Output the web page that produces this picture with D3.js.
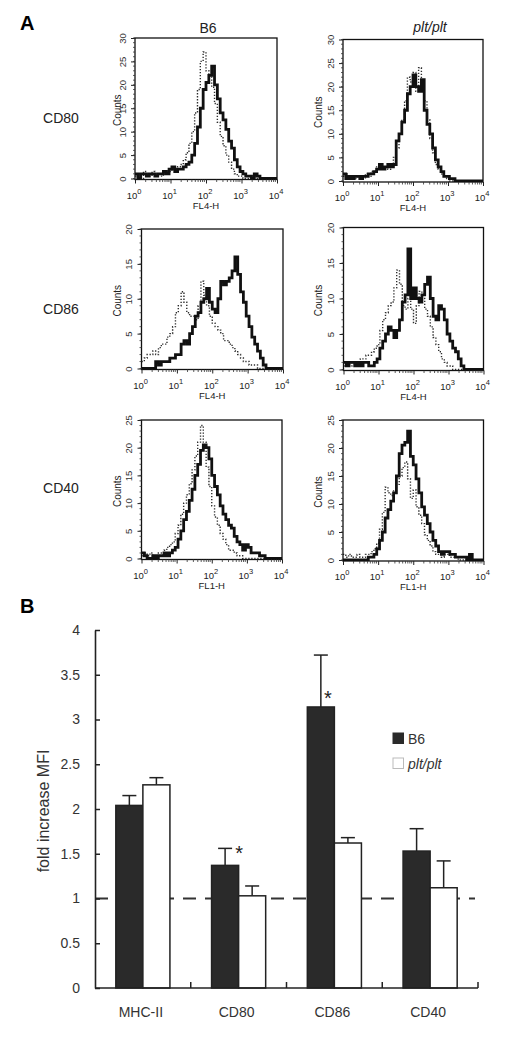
<!DOCTYPE html>
<html>
<head>
<meta charset="utf-8">
<script src="https://cdn.jsdelivr.net/npm/d3@7"></script>
<style>
  html, body { margin: 0; padding: 0; background: #ffffff; }
  svg { display: block; font-family: "Liberation Sans", Arial, sans-serif; }
</style>
</head>
<body>
<svg id="chart" width="519" height="1047"></svg>
<script>
// ---------------- DATA ----------------
// Histogram channels: 50 bins of 0.08 log10 units covering 10^0 .. 10^4
const binStepLog = 0.08;

const cd80B6Solid = [1,0,1,1,0.5,1,1,0.5,1,1, 1.5,1,2,2.5,1.5,2,2,2.5,3,3.5, 5,7.5,11,15,19,20.5,22,24,20,17, 14,12.5,10.5,8,6.5,4,2.5,1.5,1,0.5, 0.5,0,1,0.5,0,0,0,0,0,0];
const cd80B6Dot   = [0.5,1,0,1.5,1,0.5,1.5,1,1,0.5, 1.5,1,1.5,2,2,2.5,3,4,5.5,7.5, 10,14,19,25,27,23,22,19.5,16,12, 9,7,5,3.5,2,1,0.5,0.5,0,0, 0,0,0,0,0,0,0,0,0,0];
const cd80PltSolid = [1.5,0.5,1,0.5,1,1,0.5,1,1,1.5, 1.5,2,2.5,3.5,2.5,3,3.5,3,3.5,8.5, 10,12.5,15,18.5,20,22.5,20,19,21.5,15, 12,10,7,4.5,3,2,1,1,0.5,0.5, 0,0,0,0,0,0,0,0,0,0];
const cd80PltDot   = [1,1.5,0.5,1,0.5,1,1,0.5,1.5,1, 2,2,3,2.5,3,3,2.5,3,5,7, 10,13,17,22,21,23,19,24,20,17, 13,9,6,3.5,2.5,1.5,1,0.5,0,0, 0,0,0,0,0,0,0,0,0,0];

const cd86B6Solid = [0,0,0,0,0,1,0.5,1,1,1, 1.5,1.5,2,2,3.5,4,3.5,5,6,7.5, 8,9.5,10,11.5,9.5,8.5,8,10,12.5,12, 12.5,13,14,16,13.5,11,9.5,7.5,6,4.5, 3.5,2.5,1.5,0.5,0,0,0,0,0,0];
const cd86B6Dot   = [1,1.5,2,2,2.5,2,3,3.5,3.5,4.5, 5,6,8,9,11,9.5,8,7.5,7.5,7, 9,12.5,10.5,9,7.5,6.5,6,5.5,5,4, 4,3.5,3,2.5,2,1.5,1,1,0.5,0.5, 0.5,0,0,0,0,0,0,0,0,0];
const cd86PltSolid = [1,0.5,1,1,0.5,1,0.5,1,1,0.5, 0.5,1,1.5,3,4,5,6,5.5,4.5,5.5, 7,9.5,10.5,17,10,11.5,10,9.5,10.5,12, 13,10,7.5,7,9,8.5,7,5,4,3, 2.5,1.5,0.5,0,0,0,0,0,0,0];
const cd86PltDot   = [0.5,1,0.5,1,1,1,1.5,1.5,2,2, 2.5,3,3.5,5.5,7,8,9,9.5,11.5,14, 12,9,8.5,10,8.5,6.5,9,11,10,8.5, 7.5,6,4.5,3.5,2.5,1.5,1,0.5,0.5,0, 0,0,0,0,0,0,0,0,0,0];

const cd40B6Solid = [1,0.5,0,0,0.5,0,0.5,0.5,1,0.5, 1,1.5,2,3.5,5,7,8.5,10.5,12.5,15, 17,19.5,20.5,20,18,15,13,11.5,9.5,8, 7,6,5.5,4,3,2.5,1.5,2.5,2,1, 1,1,0.5,0.5,0,0,0,0,0,0];
const cd40B6Dot   = [0.5,1,0.5,1,0.5,0.5,1,1,1.5,2, 2.5,3,4.5,6,8,10,11.5,13.5,16,18.5, 21,24,21,16.5,13,9.5,7.5,6,4.5,3.5, 2.5,1.5,1.5,1,0.5,0.5,0,0,0,0, 0,0,0,0,0,0,0,0,0,0];
const cd40PltSolid = [0,0,0,0,0,0,0,0,0,0.5, 0.5,1,2,3.5,5,7.5,9,10.5,12,15, 19,20.5,21,23,18.5,17,14.5,12,9.5,8, 6.5,5,3.5,2.5,1.5,1,1.5,1.5,1,1, 0.5,0.5,0.5,0.5,0,1,0,0,0,0];
const cd40PltDot   = [1,0.5,1,0.5,0.5,1,0.5,0.5,1,1, 1.5,2,3,5.5,8.5,13,12,11.5,12.5,13.5, 15,16.5,17.5,14.5,11,12.5,9.5,8,6.5,4.5, 3.5,2.5,1.5,1,1,0.5,1,1,0.5,0.5, 0.5,0,0,0,0,0,0,0,0,0];

const histColumns = ["B6", "plt/plt"];
const histRows = ["CD80", "CD86", "CD40"];
const histYMax = [30, 20, 25];
const histXLabels = ["FL4-H", "FL4-H", "FL1-H"];
const logTickExponents = [0, 1, 2, 3, 4];

// Bar chart (panel B)
const categories = ["MHC-II", "CD80", "CD86", "CD40"];
const seriesNames = ["B6", "plt/plt"];
const b6Mean  = [2.04, 1.37, 3.14, 1.53];
const b6Err   = [0.11, 0.19, 0.58, 0.25];
const pltMean = [2.27, 1.03, 1.62, 1.12];
const pltErr  = [0.08, 0.11, 0.06, 0.30];
const yTicksB = [0, 0.5, 1, 1.5, 2, 2.5, 3, 3.5, 4];
const starCats = ["CD80", "CD86"];
const starValues = [1.55, 3.28];

// ---------------- LAYOUT ----------------
const svg = d3.select("#chart");
svg.append("rect").attr("width", 519).attr("height", 1047).attr("fill", "#ffffff");

const histData = [
  [ {solid: cd80B6Solid, dot: cd80B6Dot}, {solid: cd80PltSolid, dot: cd80PltDot} ],
  [ {solid: cd86B6Solid, dot: cd86B6Dot}, {solid: cd86PltSolid, dot: cd86PltDot} ],
  [ {solid: cd40B6Solid, dot: cd40B6Dot}, {solid: cd40PltSolid, dot: cd40PltDot} ]
];
// frames: [x0, x1, yTop, yZero, countsX]
const frames = [
  [ [135, 277, 38, 178.5, 117], [343, 483, 39.5, 181, 318] ],
  [ [141.5, 283, 229, 368.5, 117], [343.5, 483.5, 227.5, 369.5, 318] ],
  [ [141.5, 282, 420, 558.5, 117], [343, 483.5, 420, 560, 318] ]
];
const rowLabelY = [123, 314, 493];

svg.append("text").attr("x", 20).attr("y", 30).attr("font-size", 20).attr("font-weight", "bold").text("A");
svg.append("text").attr("x", 20).attr("y", 613).attr("font-size", 20).attr("font-weight", "bold").text("B");

svg.append("text").attr("x", 208).attr("y", 33).attr("text-anchor", "middle").attr("font-size", 14).attr("fill", "#222").text(histColumns[0]);
svg.append("text").attr("x", 430).attr("y", 32).attr("text-anchor", "middle").attr("font-size", 14).attr("fill", "#222").attr("font-style", "italic").text(histColumns[1]);

histRows.forEach((r, ri) => {
  svg.append("text").attr("x", 61).attr("y", rowLabelY[ri]).attr("text-anchor", "middle").attr("font-size", 14).attr("fill", "#222").text(r);
});

let clipId = 0;
histRows.forEach((r, ri) => {
  [0, 1].forEach(ci => {
    const [x0, x1, yTop, yZero, countsX] = frames[ri][ci];
    const ymax = histYMax[ri];
    const xs = d3.scaleLog().domain([1, 10000]).range([x0, x1]);
    const ys = d3.scaleLinear().domain([0, ymax]).range([yZero, yTop]);
    const g = svg.append("g");

    const cid = "clip" + (clipId++);
    svg.append("clipPath").attr("id", cid).append("rect")
      .attr("x", x0).attr("y", yTop).attr("width", x1 - x0).attr("height", yZero - yTop + 1);

    const d = histData[ri][ci];
    const toPts = arr => {
      const pts = arr.map((v, i) => [Math.pow(10, i * binStepLog), v]);
      pts.push([10000, arr[arr.length - 1]]);
      return pts;
    };
    const line = d3.line().x(p => xs(p[0])).y(p => ys(p[1])).curve(d3.curveStepAfter);

    g.append("path").attr("d", line(toPts(d.dot))).attr("fill", "none")
      .attr("stroke", "#2e2e2e").attr("stroke-width", 1.4).attr("stroke-dasharray", "1.3,1.7")
      .attr("clip-path", `url(#${cid})`);
    g.append("path").attr("d", line(toPts(d.solid))).attr("fill", "none")
      .attr("stroke", "#111").attr("stroke-width", 2.8).attr("stroke-linejoin", "miter")
      .attr("clip-path", `url(#${cid})`);

    // frame
    g.append("rect").attr("x", x0).attr("y", yTop).attr("width", x1 - x0).attr("height", yZero + 1 - yTop)
      .attr("fill", "none").attr("stroke", "#111").attr("stroke-width", 1.3);

    // y axis
    const majors = d3.range(0, ymax + 1, 5);
    const yAx = g.append("g").attr("transform", `translate(${x0},0)`)
      .call(d3.axisLeft(ys).tickValues(majors).tickSize(4).tickFormat(d3.format("d")));
    yAx.select(".domain").remove();
    yAx.selectAll("line").attr("stroke", "#222");
    yAx.selectAll("text").attr("x", null).attr("dy", null)
      .attr("transform", "translate(-9.5,0) rotate(-90)")
      .attr("text-anchor", "middle").attr("font-size", 9.5).attr("fill", "#333")
      .attr("font-family", "Liberation Sans, Arial, sans-serif");
    g.selectAll(".ymin").data(d3.range(0, ymax + 1)).enter().append("line")
      .attr("x1", x0).attr("x2", x0 - 2).attr("y1", v => ys(v)).attr("y2", v => ys(v))
      .attr("stroke", "#333").attr("stroke-width", 0.8);

    // x axis
    const xAx = g.append("g").attr("transform", `translate(0,${yZero + 1})`)
      .call(d3.axisBottom(xs).tickValues(logTickExponents.map(e => Math.pow(10, e))).tickSize(4).tickFormat(""));
    xAx.select(".domain").remove();
    xAx.selectAll("line").attr("stroke", "#222");
    const minors = [];
    [0, 1, 2, 3].forEach(e => { for (let m = 2; m <= 9; m++) minors.push(m * Math.pow(10, e)); });
    g.selectAll(".xmin").data(minors).enter().append("line")
      .attr("x1", v => xs(v)).attr("x2", v => xs(v)).attr("y1", yZero + 1).attr("y2", yZero + 3.5)
      .attr("stroke", "#333").attr("stroke-width", 0.8);
    logTickExponents.forEach(e => {
      const t = g.append("text").attr("x", xs(Math.pow(10, e)) - 1).attr("y", yZero + 20)
        .attr("text-anchor", "middle").attr("font-size", 9.5).attr("fill", "#222");
      t.append("tspan").text("10");
      t.append("tspan").attr("dy", -5).attr("font-size", 7.5).text(String(e));
    });
    g.append("text").attr("x", (x0 + x1) / 2).attr("y", yZero + 30).attr("text-anchor", "middle")
      .attr("font-size", 9.5).attr("fill", "#222").text(histXLabels[ri]);

    g.append("text").attr("transform", `translate(${countsX + 3.5},${(yTop + yZero) / 2 + 2}) rotate(-90)`)
      .attr("text-anchor", "middle").attr("font-size", 10).attr("fill", "#222").text("Counts");
  });
});

// ---------------- PANEL B ----------------
const bx0 = 95, bx1 = 478, by0 = 988, by1 = 630;
const yB = d3.scaleLinear().domain([0, 4]).range([by0, by1]);
const xB = d3.scaleBand().domain(categories).range([bx0, bx1]).padding(0);
const xSub = d3.scaleBand().domain(seriesNames).range([0, xB.bandwidth()]).paddingInner(0).paddingOuter(0.77);

const gB = svg.append("g");

// dashed reference line at 1
gB.append("line").attr("x1", bx0).attr("x2", 475).attr("y1", yB(1)).attr("y2", yB(1))
  .attr("stroke", "#333").attr("stroke-width", 1.8).attr("stroke-dasharray", "13,9");

const series = [
  {name: seriesNames[0], mean: b6Mean, err: b6Err, fill: "#2a2a2a"},
  {name: seriesNames[1], mean: pltMean, err: pltErr, fill: "#ffffff"}
];
series.forEach(s => {
  categories.forEach((c, i) => {
    const xl = xB(c) + xSub(s.name);
    const w = xSub.bandwidth();
    const cx = xl + w / 2;
    // error bar (upper only)
    gB.append("line").attr("x1", cx).attr("x2", cx).attr("y1", yB(s.mean[i])).attr("y2", yB(s.mean[i] + s.err[i]))
      .attr("stroke", "#222").attr("stroke-width", 1.5);
    gB.append("line").attr("x1", cx - 7).attr("x2", cx + 7).attr("y1", yB(s.mean[i] + s.err[i])).attr("y2", yB(s.mean[i] + s.err[i]))
      .attr("stroke", "#222").attr("stroke-width", 1.5);
    gB.append("rect").attr("x", xl).attr("y", yB(s.mean[i])).attr("width", w).attr("height", yB(0) - yB(s.mean[i]))
      .attr("fill", s.fill).attr("stroke", "#222").attr("stroke-width", 1.5);
  });
});

// significance stars
starCats.forEach((c, k) => {
  const i = categories.indexOf(c);
  const cx = xB(c) + xSub(seriesNames[0]) + xSub.bandwidth() / 2;
  const capRight = cx + 7;
  const xStar = (yB(starValues[k]) > yB(b6Mean[i] + b6Err[i]) + 5) ? cx + 7 : capRight + 7;
  gB.append("text").attr("x", xStar).attr("y", yB(starValues[k]) + 11).attr("text-anchor", "middle")
    .attr("font-size", 20).attr("fill", "#222").text("*");
});

// axes
const yAxB = gB.append("g").attr("transform", `translate(${bx0},0)`)
  .call(d3.axisLeft(yB).tickValues(yTicksB).tickSizeInner(-5).tickSizeOuter(0).tickPadding(15).tickFormat(d => String(d)));
yAxB.select(".domain").attr("stroke", "#222").attr("stroke-width", 1.6);
yAxB.selectAll("line").attr("stroke", "#222").attr("stroke-width", 1.5);
yAxB.selectAll("text").attr("font-size", 14).attr("fill", "#333").attr("font-family", "Liberation Sans, Arial, sans-serif");

gB.append("line").attr("x1", bx0).attr("x2", bx1).attr("y1", by0).attr("y2", by0).attr("stroke", "#222").attr("stroke-width", 1.6);
categories.forEach(c => {
  const xe = xB(c) + xB.bandwidth();
  gB.append("line").attr("x1", xe).attr("x2", xe).attr("y1", by0).attr("y2", by0 - 6).attr("stroke", "#222").attr("stroke-width", 1.5);
  gB.append("text").attr("x", xB(c) + xB.bandwidth() / 2 - 2).attr("y", 1017).attr("text-anchor", "middle")
    .attr("font-size", 14).attr("fill", "#333").text(c);
});

gB.append("text").attr("transform", `translate(49,811) rotate(-90)`).attr("text-anchor", "middle")
  .attr("font-size", 16).attr("fill", "#333").text("fold increase MFI");

// legend
const legY = [733, 758];
series.forEach((s, k) => {
  gB.append("rect").attr("x", 393).attr("y", legY[k]).attr("width", 10.5).attr("height", 10.5)
    .attr("fill", s.fill).attr("stroke", k === 0 ? "#2a2a2a" : "#bbb").attr("stroke-width", 1);
  gB.append("text").attr("x", 408).attr("y", legY[k] + 11).attr("font-size", 14).attr("fill", "#333")
    .attr("font-style", k === 0 ? "normal" : "italic").text(s.name);
});
</script>
</body>
</html>
